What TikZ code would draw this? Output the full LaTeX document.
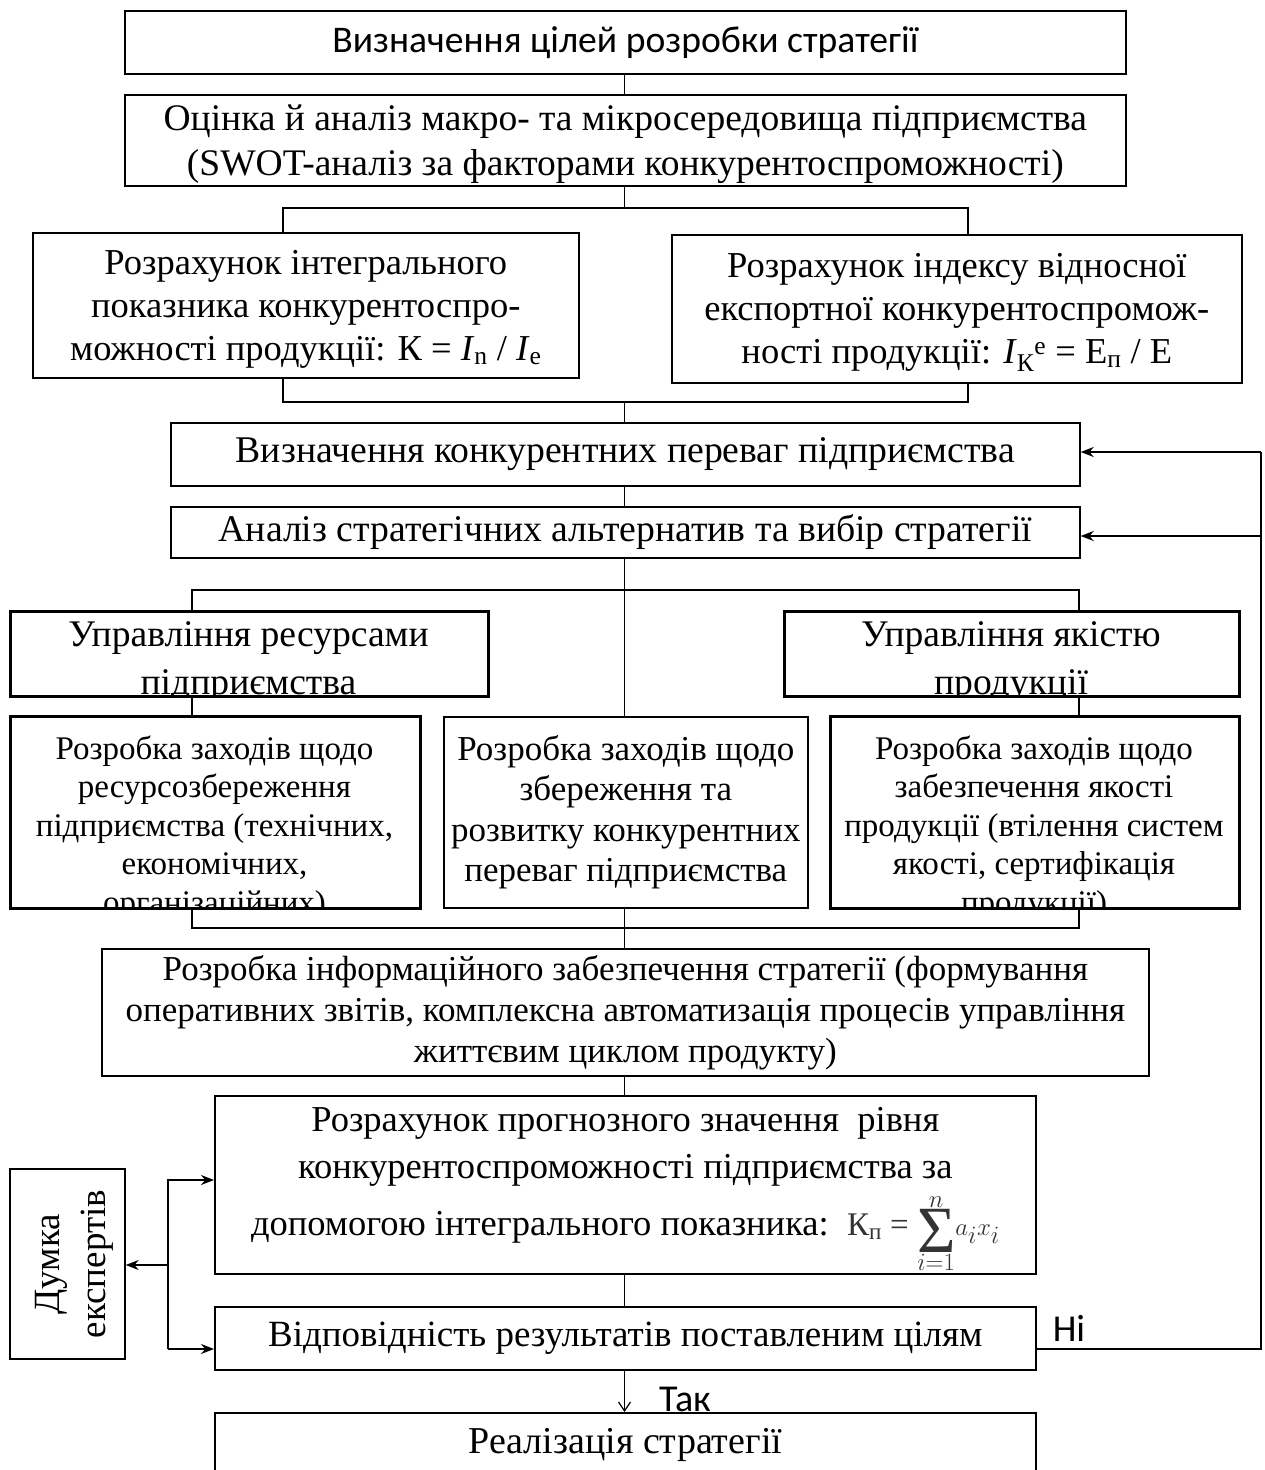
\documentclass[tikz,border=0pt]{standalone}
\usepackage{fontspec}
\setmainfont{Liberation Serif}
\newfontfamily\calib{Carlito}
\usetikzlibrary{arrows.meta}
\begin{document}
\begin{tikzpicture}[x=1pt,y=-1pt,
  box/.style={draw, line width=1.7pt, inner sep=0pt, anchor=north west, align=center},
  frame/.style={line width=1.7pt},
  ln/.style={line width=1.2pt},
  arr/.style={line width=1.4pt, -{Stealth[length=13pt,width=10pt]}},
  yarr/.style={line width=1.2pt, -{Straight Barb[length=9pt,width=12pt]}},
  mtxt/.style={font=\fontsize{37.7}{44}\selectfont},
  stxt/.style={font=\fontsize{33}{38.5}\selectfont, align=center, inner sep=0pt},
  lbl/.style={font=\calib\fontsize{38}{44}\selectfont, inner sep=0pt},
]
\useasboundingbox (0,0) rectangle (1264,1470);

% top
\node[box, minimum width=1001pt, minimum height=63pt, font=\calib\fontsize{37.6}{44}\selectfont] (goal) at (124,10) {Визначення цілей розробки стратегії};
\node[box, minimum width=1001pt, minimum height=91pt, font=\fontsize{37.5}{45}\selectfont] (swot) at (124,94)
  {\rule{0pt}{33pt}Оцінка й аналіз макро- та мікросередовища підприємства\\(SWOT-аналіз за факторами конкурентоспроможності)};

\node[box, minimum width=546pt, minimum height=145pt, font=\fontsize{36.5}{43}\selectfont] (intg) at (32,232)
  {\rule{0pt}{32pt}Розрахунок інтегрального\\показника конкурентоспро-\\можності продукції: К = \textit{I}\textsubscript{n} / \textit{I}\textsubscript{e}};
\node[box, minimum width=570pt, minimum height=148pt, font=\fontsize{36.5}{43}\selectfont] (expt) at (671,234)
  {\rule{0pt}{32pt}Розрахунок індексу відносної\\експортної конкурентоспромож-\\ності продукції: \textit{I}\textsubscript{К}\textsuperscript{е} = Е\textsubscript{п} / Е};

\node[box, minimum width=909pt, minimum height=63pt, mtxt] (adv) at (170,422) {Визначення конкурентних переваг підприємства};
\node[box, minimum width=909pt, minimum height=51pt, mtxt] (alt) at (170,506) {Аналіз стратегічних альтернатив та вибір стратегії};

% management boxes (clipped text)
\node[box, minimum width=477pt, minimum height=84pt] (resm) at (10,611) {};
\node[box, minimum width=454pt, minimum height=84pt] (qualm) at (784,611) {};
\begin{scope}
  \clip (resm.north west) rectangle (resm.south east);
  \node[stxt, font=\fontsize{37.6}{48}\selectfont] (resmt) at (248.5,662) {Управління ресурсами\\підприємства};
\end{scope}
\begin{scope}
  \clip (qualm.north west) rectangle (qualm.south east);
  \node[stxt, font=\fontsize{37.6}{48}\selectfont] (qualmt) at (1011,662) {Управління якістю\\продукції};
\end{scope}

% row of three
\node[box, minimum width=409pt, minimum height=191pt] (rsv) at (10,716) {};
\node[box, minimum width=364pt, minimum height=191pt, font=\fontsize{35}{40.5}\selectfont] (dev) at (443,716)
  {Розробка заходів щодо\\збереження та\\розвитку конкурентних\\переваг підприємства};
\node[box, minimum width=408pt, minimum height=191pt] (qas) at (830,716) {};
\begin{scope}
  \clip (rsv.north west) rectangle (rsv.south east);
  \node[stxt] (rsvt) at (214.5,828) {Розробка заходів щодо\\ресурсозбереження\\підприємства (технічних,\\економічних,\\організаційних)};
\end{scope}
\begin{scope}
  \clip (qas.north west) rectangle (qas.south east);
  \node[stxt] (qast) at (1034,828) {Розробка заходів щодо\\забезпечення якості\\продукції (втілення систем\\якості, сертифікація\\продукції)};
\end{scope}
\draw[frame] (rsv.north west) rectangle (rsv.south east);
\draw[frame] (qas.north west) rectangle (qas.south east);
\draw[frame] (resm.north west) rectangle (resm.south east);
\draw[frame] (qualm.north west) rectangle (qualm.south east);

\node[box, minimum width=1047pt, minimum height=127pt, font=\fontsize{35}{41}\selectfont] (info) at (101,948)
  {Розробка інформаційного забезпечення стратегії (формування\\оперативних звітів, комплексна автоматизація процесів управління\\життєвим циклом продукту)};

\node[box, minimum width=821pt, minimum height=178pt, font=\fontsize{36.5}{47}\selectfont] (prog) at (214,1095)
  {Розрахунок прогнозного значення\ \ рівня\\конкурентоспроможності підприємства за\\[10pt]допомогою інтегрального показника:\ \ \smash{\fontsize{33}{33}\selectfont\color{black!80}К\textsubscript{п} = $\displaystyle\mathop{\raisebox{-17pt}{\fontsize{66}{66}\selectfont Σ}}\limits^{n}_{i=1}\! a_i x_i$}\rule[-26pt]{0pt}{1pt}};

\node[box, minimum width=821pt, minimum height=63pt, font=\fontsize{37}{44}\selectfont] (comp) at (214,1306) {Відповідність результатів поставленим цілям};
\node[box, minimum width=821pt, minimum height=64pt, font=\fontsize{38}{44}\selectfont] (real) at (214,1412) {Реалізація стратегії};

\node[box, minimum width=115pt, minimum height=190pt] (expr) at (9,1168) {};
\node[rotate=90, align=center, inner sep=0pt, font=\fontsize{37}{46}\selectfont] (exprt) at (74,1264) {Думка\\експертів};

% connectors
\coordinate (c1) at (624.5,208);
\coordinate (c2) at (624.5,402);
\draw[ln] (goal.south -| c1) -- (swot.north -| c1);
\draw[ln] (swot.south -| c1) -- (c1);
\draw[ln] (283,232) |- (968,208) -- (968,234);
\draw[ln] (283,377) |- (968,402) -- (968,382);
\draw[ln] (c2) -- (adv.north -| c2);
\draw[ln] (adv.south -| c2) -- (alt.north -| c2);
\draw[ln] (alt.south -| c2) -- (dev.north -| c2);
\draw[ln] (192,611) |- (1079,590) -- (1079,611);
\draw[ln] (resm.south -| 192,0) -- (rsv.north -| 192,0);
\draw[ln] (qualm.south -| 1079,0) -- (qas.north -| 1079,0);
\draw[ln] (rsv.south -| 192,0) |- (1079,928) -- (qas.south -| 1079,0);
\draw[ln] (dev.south -| c2) -- (info.north -| c2);
\draw[ln] (info.south -| c2) -- (prog.north -| c2);
\draw[ln] (prog.south -| c2) -- (comp.north -| c2);
\draw[yarr] (comp.south -| c2) -- (real.north -| c2);
\node[lbl] (yes) at (685,1399) {Так};

% feedback
\coordinate (fb) at (1261,1349);
\draw[ln] (comp.east |- fb) -- (fb) -- (1261,452);
\draw[arr] (1261,452) -- (adv.east |- 0,452);
\draw[arr] (1261,536) -- (alt.east |- 0,536);
\node[lbl] (no) at (1069,1328) {Ні};

% experts
\coordinate (e1) at (168,1180);
\coordinate (e2) at (168,1349);
\draw[arr] (e2) -- (e1) -- (prog.west |- e1);
\draw[arr] (e2) -- (comp.west |- e2);
\draw[arr] (168,1265) -- (expr.east |- 0,1265);
\end{tikzpicture}
\end{document}
